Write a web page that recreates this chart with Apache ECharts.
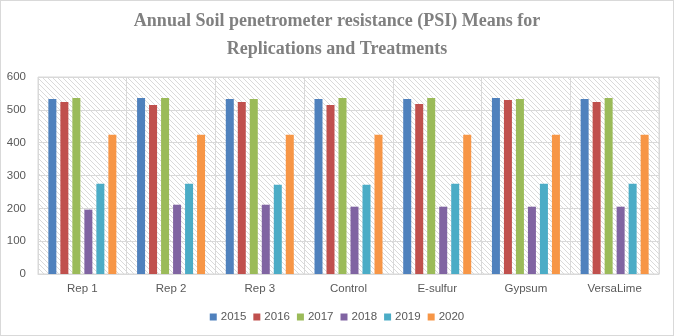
<!DOCTYPE html>
<html>
<head>
<meta charset="utf-8">
<style>
  html, body { margin: 0; padding: 0; background: #fff; }
  #chart { width: 674px; height: 336px; box-sizing: border-box; border: 1px solid #d9d9d9; }
</style>
<script src="https://cdn.jsdelivr.net/npm/echarts@6/dist/echarts.min.js"></script>
</head>
<body>
<div id="chart"></div>
<script>
// Categories (replications and treatments)
const categories = ['Rep 1', 'Rep 2', 'Rep 3', 'Control', 'E-sulfur', 'Gypsum', 'VersaLime'];
// Yearly means of soil penetrometer resistance (PSI)
const years = ['2015', '2016', '2017', '2018', '2019', '2020'];
const y2015 = [533, 536, 533, 533, 533, 536, 533];
const y2016 = [524, 515, 524, 515, 518, 530, 524];
const y2017 = [536, 536, 533, 536, 536, 533, 536];
const y2018 = [196, 211, 211, 205, 205, 205, 205];
const y2019 = [275, 275, 272, 272, 275, 275, 275];
const y2020 = [424, 424, 424, 424, 424, 424, 424];
const yearValues = [y2015, y2016, y2017, y2018, y2019, y2020];
const colors = ['#4F81BD', '#C0504D', '#9BBB59', '#8064A2', '#4BACC6', '#F79646'];

// Diagonal hatch used as the plot-area fill
function hatchPattern() {
  const c = document.createElement('canvas');
  c.width = 5; c.height = 5;
  const g = c.getContext('2d');
  g.fillStyle = '#ffffff';
  g.fillRect(0, 0, 5, 5);
  g.strokeStyle = '#dadada';
  g.lineWidth = 1;
  g.beginPath();
  g.moveTo(-1, -1); g.lineTo(6, 6);
  g.moveTo(-1, 4); g.lineTo(1, 6);
  g.moveTo(4, -1); g.lineTo(6, 1);
  g.stroke();
  return { image: c, repeat: 'repeat' };
}

const labelFont = { fontFamily: 'Liberation Sans', fontSize: 11.5, color: '#595959' };

const chart = echarts.init(document.getElementById('chart'), null, { renderer: 'canvas' });
chart.setOption({
  animation: false,
  color: colors,
  title: {
    text: 'Annual Soil penetrometer resistance (PSI) Means for\nReplications and Treatments',
    left: 'center',
    top: 1,
    textStyle: {
      fontFamily: 'Liberation Serif',
      fontWeight: 'bold',
      fontSize: 18,
      color: '#808080',
      lineHeight: 28
    }
  },
  legend: {
    bottom: 7,
    left: 'center',
    itemWidth: 7,
    itemHeight: 7,
    itemGap: 7,
    icon: 'rect',
    textStyle: Object.assign({ padding: [0, 0, 0, -1] }, labelFont),
    data: years
  },
  grid: {
    left: 37,
    right: 14,
    top: 76,
    bottom: 61,
    show: true,
    backgroundColor: hatchPattern(),
    borderColor: '#d9d9d9',
    borderWidth: 1
  },
  xAxis: {
    type: 'category',
    data: categories,
    axisLine: { lineStyle: { color: '#d9d9d9' } },
    axisTick: { show: false },
    splitLine: { show: true, interval: 0, lineStyle: { color: '#d9d9d9', width: 1 } },
    axisLabel: Object.assign({ margin: 9, interval: 0 }, labelFont)
  },
  yAxis: {
    type: 'value',
    min: 0,
    max: 600,
    interval: 100,
    axisLine: { show: false },
    axisTick: { show: false },
    splitLine: { lineStyle: { color: '#d9d9d9', width: 1 } },
    axisLabel: Object.assign({ margin: 12 }, labelFont)
  },
  series: years.map((y, i) => ({
    name: y,
    type: 'bar',
    data: yearValues[i],
    barWidth: 8,
    barGap: '50%'
  }))
});
</script>
</body>
</html>
